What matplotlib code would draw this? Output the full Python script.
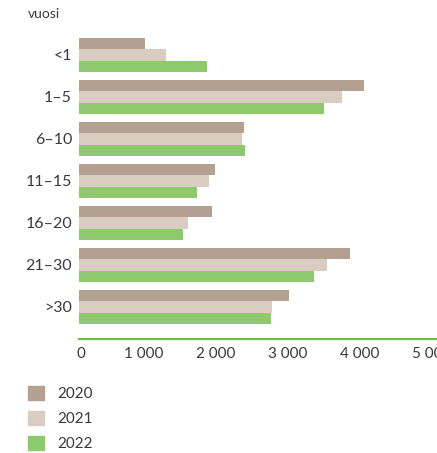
import matplotlib
matplotlib.use("Agg")
import matplotlib.pyplot as plt
import matplotlib.patches as mpatches
from matplotlib.transforms import ScaledTranslation
import numpy as np

plt.rcParams['font.family'] = ['Lato', 'DejaVu Sans']

groups = ['<1', '1–5', '6–10', '11–15', '16–20', '21–30', '>30']
years = ['2020', '2021', '2022']
v2020 = [917, 3958, 2292, 1889, 1847, 3764, 2917]
v2021 = [1208, 3653, 2264, 1806, 1514, 3444, 2681]
v2022 = [1778, 3403, 2306, 1639, 1444, 3264, 2667]
xticks = [0, 1000, 2000, 3000, 4000, 5000]
xticklabels = ['0', '1 000', '2 000', '3 000', '4 000', '5 000']

colors = ['#b4a091', '#d9cdc2', '#8ec96e']
text_col = '#3a3a3a'

fig = plt.figure(figsize=(4.37, 4.53), dpi=100)
ax = fig.add_axes([79/437, (453-339)/453, 360/437, (339-34)/453])

y = np.arange(len(groups))
h = 0.27
for i, (vals, c) in enumerate(zip([v2020, v2021, v2022], colors)):
    ax.barh(y + (i - 1) * h, vals, height=h, color=c, linewidth=0)

ax.set_ylim(6.762, -0.5)
ax.set_xlim(0, 5000)
ax.set_yticks(y)
ax.set_yticklabels(groups, fontsize=11.5, color=text_col)
ax.set_xticks(xticks)
ax.set_xticklabels(xticklabels, fontsize=11, color=text_col)
ax.tick_params(axis='both', length=0)
ax.tick_params(axis='y', pad=5)
ax.tick_params(axis='x', pad=6)

for s in ['top', 'right', 'left']:
    ax.spines[s].set_visible(False)
ax.spines['bottom'].set_color('#6cbf4a')
ax.spines['bottom'].set_linewidth(1.6)

# labels sit a little left of their ticks in the original
for lbl, t in zip(ax.get_xticklabels(), xticks):
    dx = 2 if t == 0 else -7
    lbl.set_transform(lbl.get_transform() + ScaledTranslation(dx / 100, 0, fig.dpi_scale_trans))

fig.text(28/437, 1 - 14/453, 'vuosi', fontsize=10, color=text_col, va='center', ha='left')

handles = [mpatches.Patch(color=c, label=yr) for c, yr in zip(colors, years)]
fig.legend(handles=handles, loc='upper left', bbox_to_anchor=(28/437, 1 - 386/453),
           frameon=False, fontsize=11, handlelength=1.05, handleheight=1.05,
           handletextpad=0.9, labelspacing=0.62, borderpad=0, borderaxespad=0,
           labelcolor=text_col)

fig.savefig('out.png', dpi=100)
